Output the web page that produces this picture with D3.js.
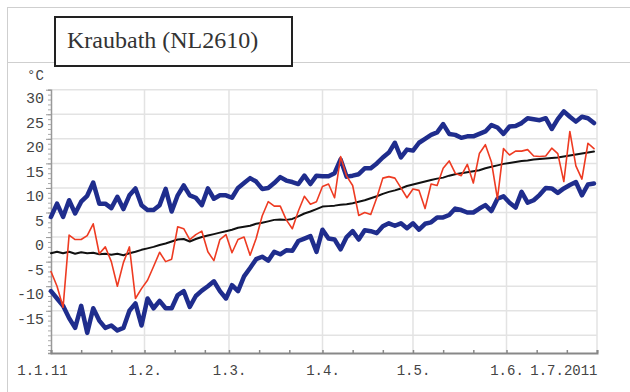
<!DOCTYPE html>
<html>
<head>
<meta charset="utf-8">
<script src="https://cdn.jsdelivr.net/npm/d3@7"></script>
<style>
  body { margin: 0; background: #fff; }
  svg { display: block; }
</style>
</head>
<body>
<div id="chart"></div>
<script>
var title = "Kraubath (NL2610)";
var unitLabel = "°C";

// one value every 2 days, starting 1.1.2011
var stepDays = 2;

var tempMax = [4.1, 6.8, 4.1, 7.5, 4.8, 7.2, 8.4, 11.1, 6.8, 6.8, 5.9, 8.2, 5.7, 8.5, 9.9,
  6.5, 5.5, 5.5, 6.5, 9.8, 5.2, 8.5, 10.5, 8.5, 8.0, 6.5, 9.9, 7.8, 8.5, 8.5,
  8.0, 10.0, 11.0, 12.0, 11.3, 9.8, 10.0, 11.0, 12.2, 11.5, 11.2, 10.8, 12.5, 10.8, 12.5,
  12.4, 12.4, 13.0, 15.8, 12.3, 12.5, 12.8, 14.0, 14.0, 15.0, 16.2, 17.2, 19.2, 16.2, 17.8,
  17.6, 19.2, 20.0, 20.8, 21.3, 23.0, 21.0, 20.8, 20.2, 20.5, 20.5, 21.0, 21.5, 22.8, 22.3,
  21.0, 22.5, 22.6, 23.2, 24.2, 24.0, 23.8, 24.2, 22.0, 24.0, 25.6, 24.5, 23.5, 24.5, 24.2, 23.2];

var tempMin = [-11, -12.5, -14, -16.5, -18.5, -14, -19.5, -14.5, -17, -18.5, -18, -19, -18.5, -15, -13.5,
  -18, -12.5, -14.5, -13, -14.5, -14.5, -11.8, -11, -14.2, -12, -10.9, -10, -9, -11, -12.5,
  -9.8, -11, -8, -6.3, -4.5, -4, -4.8, -3, -3.5, -2.7, -2.8, -0.8, -0.3, 0.2, -3,
  1.5, -0.3, -0.5, -2.5, 0, 1.2, -0.5, 1.4, 1.2, 0.8, 2.2, 2.8, 2.3, 2.8, 1.8,
  2.8, 1.5, 2.7, 3.0, 4.0, 4.0, 4.5, 5.8, 5.5, 5.0, 5.0, 5.8, 6.5, 5.3, 7.8,
  8.3, 7.0, 6.0, 9.2, 7.0, 7.5, 8.6, 10.0, 9.9, 9.0, 9.9, 10.6, 11.2, 8.5, 10.7, 10.9];

var tempMean = [-3.3, -3.0, -3.3, -3.0, -3.4, -3.1, -3.3, -3.2, -3.5, -3.4, -3.6, -3.4, -3.7, -3.3, -3.0,
  -2.6, -2.3, -2.0, -1.6, -1.3, -0.9, -0.5, -0.4, -0.9, -0.4, 0.0, 0.3, 0.6, 0.9, 1.2,
  1.5, 1.9, 2.1, 2.3, 2.7, 2.9, 3.2, 3.5, 3.6, 3.5, 3.7, 4.2, 4.8, 5.2, 5.7,
  6.2, 6.3, 6.4, 6.6, 6.7, 6.9, 7.2, 7.5, 7.9, 8.3, 8.8, 9.2, 9.5, 9.9, 10.4,
  10.7, 11.0, 11.3, 11.6, 11.9, 12.1, 12.5, 12.8, 13.0, 13.2, 13.4, 13.6, 14.0, 14.3, 14.6,
  14.9, 15.1, 15.3, 15.5, 15.6, 15.8, 15.9, 16.0, 16.1, 16.2, 16.4, 16.6, 16.8, 17.0, 17.2, 17.4];

var tempObs = [-7, -10, -14.3, 0.4, -0.5, -0.5, 0.3, 2.7, -3.4, -2, -5, -10, -5.2, -2, -12.5,
  -10.5, -8.8, -6, -3.1, -5, -4.5, 2.1, 1.7, -0.5, 0.5, 1.2, -3, -4.8, -0.5, 0.5,
  -3.2, -0.5, 0, -3.7, -0.3, 4.3, 7.2, 6.3, 6.3, 3.5, 1.7, 5.3, 8.3, 6.7, 7.2,
  10.3, 10.8, 8, 16.4, 12.4, 10.5, 4.4, 5, 4.6, 8, 12, 12.3, 12, 10, 8,
  9.8, 9.5, 5.8, 10.8, 10.5, 14, 15.5, 13, 12.5, 14.8, 11, 17, 18.8, 15.3, 7.8,
  18, 16.7, 17.5, 17.5, 17.8, 16.5, 16.4, 16.5, 18.1, 17, 11.3, 21.5, 14.5, 11.8, 19.1, 18];

var yLabelValues = [30, 25, 20, 15, 10, 5, 0, -5, -10, -15];
var yGridValues = [30, 25, 20, 15, 10, 5, 0, -5, -10, -15, -20];
var xTickLabels = ["1.1.11", "1.2.", "1.3.", "1.4.", "1.5.", "1.6.", "1.7.2011"];

var width = 630, height = 392;
var startDate = new Date(2011, 0, 1), endDate = new Date(2011, 6, 1);

var svg = d3.select("#chart").append("svg")
    .attr("width", width)
    .attr("height", height);

// outer frame and header separator
svg.append("rect")
    .attr("x", 7.5).attr("y", 7.5)
    .attr("width", 700).attr("height", 500)
    .attr("fill", "none").attr("stroke", "#cfcfcf");
svg.append("line")
    .attr("x1", 7.5).attr("x2", width).attr("y1", 62.5).attr("y2", 62.5)
    .attr("stroke", "#cfcfcf");

// title box
svg.append("rect")
    .attr("x", 55).attr("y", 17)
    .attr("width", 237).attr("height", 49)
    .attr("fill", "#fff").attr("stroke", "#222").attr("stroke-width", 2);
svg.append("text")
    .attr("x", 67).attr("y", 48)
    .attr("font-family", "Liberation Serif, Times New Roman, serif")
    .attr("font-size", 24)
    .attr("fill", "#333")
    .text(title);

svg.append("text")
    .attr("x", 27).attr("y", 80)
    .attr("font-family", "Liberation Mono, monospace")
    .attr("font-size", 14)
    .attr("fill", "#444")
    .text(unitLabel);

var x = d3.scaleTime().domain([startDate, endDate]).range([51, 597]);
var y = d3.scaleLinear().domain([-23.6, 30]).range([353, 89.7]);

var months = d3.timeMonth.range(startDate, d3.timeDay.offset(endDate, 1));

// grid
var grid = svg.append("g");
grid.selectAll(".hg")
    .data(yGridValues)
    .enter().append("line")
    .attr("x1", x.range()[0]).attr("x2", x.range()[1])
    .attr("y1", function (d) { return y(d); })
    .attr("y2", function (d) { return y(d); })
    .attr("stroke", "#e3e3e3").attr("stroke-width", 1.5);
grid.selectAll(".vg")
    .data(months.slice(1))
    .enter().append("line")
    .attr("x1", function (d) { return x(d); })
    .attr("x2", function (d) { return x(d); })
    .attr("y1", y.range()[1]).attr("y2", y.range()[0])
    .attr("stroke", "#e3e3e3").attr("stroke-width", 1.5);

// y axis: minor ticks every degree, labels every 5
var yMinor = svg.append("g")
    .attr("transform", "translate(" + x.range()[0] + ",0)")
    .call(d3.axisLeft(y).tickValues(d3.range(-23, 31)).tickSize(3).tickFormat(""));
yMinor.select(".domain").attr("stroke", "#999").attr("stroke-width", 1.5);
yMinor.selectAll(".tick line").attr("stroke", "#aaa");

var yLabels = svg.append("g")
    .attr("transform", "translate(" + x.range()[0] + ",0)")
    .call(d3.axisLeft(y).tickValues(yLabelValues).tickSize(5).tickPadding(2)
        .tickFormat(function (d) { return String(d); }));
yLabels.select(".domain").remove();
yLabels.selectAll(".tick line").attr("stroke", "#999");
yLabels.selectAll("text")
    .attr("dy", "0.85em")
    .attr("font-family", "Liberation Mono, monospace")
    .attr("font-size", 15)
    .attr("fill", "#444");

// x axis: ticks on 1st, 11th and 21st, labels at month starts
var xMinorDates = [];
months.forEach(function (m) {
    xMinorDates.push(m);
    if (m < endDate) {
        xMinorDates.push(d3.timeDay.offset(m, 10));
        xMinorDates.push(d3.timeDay.offset(m, 20));
    }
});
var xAxis = svg.append("g")
    .attr("transform", "translate(0," + y.range()[0] + ")")
    .call(d3.axisBottom(x).tickValues(xMinorDates).tickSize(-3).tickFormat(""));
xAxis.select(".domain").attr("stroke", "#888").attr("stroke-width", 2);
xAxis.selectAll(".tick line").attr("stroke", "#888").attr("stroke-width", 1.5);

var xLabels = svg.append("g")
    .attr("transform", "translate(0," + y.range()[0] + ")")
    .call(d3.axisBottom(x).tickValues(months).tickSize(0).tickPadding(12)
        .tickFormat(function (d, i) { return xTickLabels[i]; }));
xLabels.select(".domain").remove();
xLabels.selectAll("text")
    .attr("font-family", "Liberation Mono, monospace")
    .attr("font-size", 14)
    .attr("fill", "#444");
xLabels.selectAll("text")
    .filter(function (d, i) { return i === 0; })
    .attr("dx", -9);
xLabels.selectAll("text")
    .filter(function (d, i) { return i === months.length - 1; })
    .attr("text-anchor", "end");

// series
function toPoints(values) {
    return values.map(function (v, i) {
        return { date: d3.timeDay.offset(startDate, i * stepDays), value: v };
    });
}

var line = d3.line()
    .x(function (d) { return x(d.date); })
    .y(function (d) { return y(d.value); });

var series = [
    { values: tempMax, color: "#1f2d8d", width: 4.5 },
    { values: tempMin, color: "#1f2d8d", width: 4.5 },
    { values: tempMean, color: "#111", width: 2 },
    { values: tempObs, color: "#ee3b22", width: 1.6 }
];

svg.append("g").selectAll("path")
    .data(series)
    .enter().append("path")
    .attr("d", function (s) { return line(toPoints(s.values)); })
    .attr("fill", "none")
    .attr("stroke", function (s) { return s.color; })
    .attr("stroke-width", function (s) { return s.width; })
    .attr("stroke-linejoin", "round")
    .attr("stroke-linecap", "round");
</script>
</body>
</html>
